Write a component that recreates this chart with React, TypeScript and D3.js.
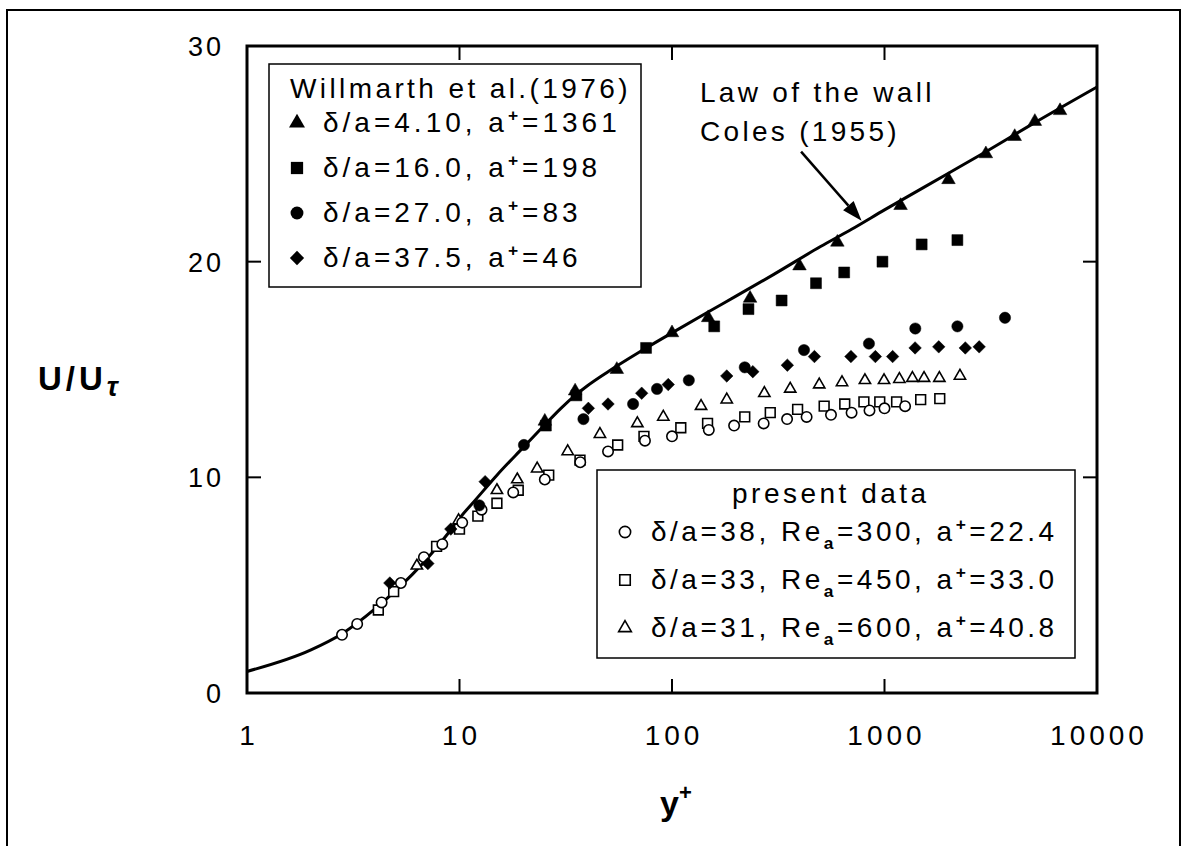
import React, { useEffect, useRef } from 'react';
import * as d3 from 'd3';

type Pt = [number, number];

// law of the wall, Coles (1955)
const lawOfWall: Pt[] = [
  [1, 1.0], [2, 2.0], [2.8, 2.75], [4, 3.9], [5, 4.75], [6, 5.5], [7, 6.2], [9, 7.5],
  [10, 8.1], [12, 9.0], [15, 10.1], [20, 11.4], [25, 12.4], [30, 13.2], [35, 13.8],
  [40, 14.25], [50, 14.9], [70, 15.8], [100, 16.7], [150, 17.7], [200, 18.4], [300, 19.4],
  [500, 20.7], [700, 21.5], [1000, 22.4], [2000, 24.1], [3000, 25.1], [5000, 26.4], [10000, 28.1],
];

// Willmarth et al. (1976)
const willTri: Pt[] = [
  [25.2, 12.6], [35, 14.0], [55, 15.0], [100, 16.7], [148, 17.4], [233, 18.3], [398, 19.8],
  [600, 20.9], [1190, 22.6], [2000, 23.8], [3000, 25.0], [4100, 25.8], [5100, 26.5], [6700, 27.0],
];
const willSq: Pt[] = [
  [25.5, 12.4], [35.5, 13.8], [75.5, 16.0], [158, 17.0], [229, 17.8], [328, 18.2], [476, 19.0],
  [646, 19.5], [978, 20.0], [1496, 20.8], [2203, 21.0],
];
const willCirc: Pt[] = [
  [12.4, 8.7], [20.1, 11.5], [38.3, 12.7], [65.6, 13.4], [85, 14.1], [120, 14.5], [220, 15.1],
  [418, 15.9], [845, 16.2], [1396, 16.9], [2203, 17.0], [3690, 17.4],
];
const willDiam: Pt[] = [
  [4.7, 5.1], [7.1, 6.0], [9.1, 7.6], [13.2, 9.8], [40.4, 13.2], [50, 13.4], [72, 13.9],
  [96, 14.3], [181, 14.7], [240, 14.9], [349, 15.2], [468, 15.6], [695, 15.6], [906, 15.6],
  [1092, 15.6], [1393, 16.0], [1800, 16.05], [2400, 16.0], [2790, 16.05],
];

// present data
const presCirc: Pt[] = [
  [2.8, 2.7], [3.3, 3.2], [4.3, 4.2], [5.3, 5.1], [6.8, 6.3], [8.3, 6.9], [10.3, 7.9],
  [12.7, 8.5], [17.9, 9.3], [25.2, 9.9], [37, 10.7], [50, 11.2], [74.6, 11.7], [100, 11.9],
  [149, 12.2], [196, 12.4], [270, 12.5], [348, 12.7], [430, 12.8], [560, 12.9], [700, 13.0],
  [850, 13.1], [1000, 13.2], [1250, 13.3],
];
const presSq: Pt[] = [
  [4.15, 3.85], [4.9, 4.7], [7.8, 6.8], [10, 7.6], [12.2, 8.2], [15, 8.8], [18.9, 9.4],
  [26.3, 10.1], [36.9, 10.8], [55.5, 11.5], [73.8, 11.9], [110, 12.3], [147, 12.5], [220, 12.8],
  [290, 13.0], [390, 13.15], [520, 13.3], [650, 13.4], [800, 13.5], [950, 13.5], [1140, 13.5],
  [1480, 13.6], [1820, 13.65],
];
const presTri: Pt[] = [
  [6.3, 5.9], [9.9, 8.0], [15, 9.4], [18.7, 9.9], [23.2, 10.4], [32.3, 11.2], [45.8, 12.0],
  [68.7, 12.5], [91, 12.8], [137, 13.3], [181, 13.6], [272, 13.9], [360, 14.1], [493, 14.3],
  [631, 14.4], [809, 14.5], [995, 14.5], [1175, 14.55], [1353, 14.6], [1535, 14.6], [1812, 14.6],
  [2265, 14.7],
];

const xTicks = [1, 10, 100, 1000, 10000];
const yTicks = [0, 10, 20, 30];

const willDelta = ['4.10', '16.0', '27.0', '37.5'];
const willAplus = ['1361', '198', '83', '46'];
const presDelta = ['38', '33', '31'];
const presRe = ['300', '450', '600'];
const presAplus = ['22.4', '33.0', '40.8'];

// arrow from the label to the curve, in data units
const arrowFrom: Pt = [405, 25.1];
const arrowTo: Pt = [780, 21.9];

const FONT = '"Liberation Sans", Arial, Helvetica, sans-serif';

type Part = [string, '' | 'sub' | 'sup'];

function richText(g: any, x: number, y: number, parts: Part[], size: number, spacing = 3) {
  const t = g.append('text')
    .attr('x', x).attr('y', y)
    .attr('font-family', FONT)
    .attr('font-size', size)
    .attr('letter-spacing', spacing)
    .attr('fill', '#000');
  let shift = 0;
  parts.forEach(([s, kind]) => {
    const want = kind === 'sub' ? size * 0.28 : kind === 'sup' ? -size * 0.38 : 0;
    const ts = t.append('tspan').text(s).attr('dy', want - shift);
    if (kind) ts.attr('font-size', size * 0.62).attr('font-weight', 'bold');
    shift = want;
  });
  return t;
}

export default function App() {
  const ref = useRef<SVGSVGElement>(null);

  useEffect(() => {
    const svg = d3.select(ref.current);
    svg.selectAll('*').remove();

    const x = d3.scaleLog().domain([1, 10000]).range([247, 1097]);
    const y = d3.scaleLinear().domain([0, 30]).range([693, 46]);
    const [x0, x1] = x.range();
    const [y0, y1] = y.range();

    // outer frame
    svg.append('rect')
      .attr('x', 7).attr('y', 10).attr('width', 1173).attr('height', 900)
      .attr('fill', 'none').attr('stroke', '#000').attr('stroke-width', 2);

    // axis frame
    svg.append('rect')
      .attr('x', x0).attr('y', y1).attr('width', x1 - x0).attr('height', y0 - y1)
      .attr('fill', 'none').attr('stroke', '#000').attr('stroke-width', 3);

    const ticks = svg.append('g').attr('stroke', '#000').attr('stroke-width', 2);
    xTicks.slice(1, -1).forEach(v => {
      ticks.append('line').attr('x1', x(v)).attr('x2', x(v)).attr('y1', y0).attr('y2', y0 - 14);
      ticks.append('line').attr('x1', x(v)).attr('x2', x(v)).attr('y1', y1).attr('y2', y1 + 14);
    });
    yTicks.slice(1, -1).forEach(v => {
      ticks.append('line').attr('x1', x0).attr('x2', x0 + 14).attr('y1', y(v)).attr('y2', y(v));
      ticks.append('line').attr('x1', x1).attr('x2', x1 - 14).attr('y1', y(v)).attr('y2', y(v));
    });

    // tick labels
    svg.append('g').selectAll('text').data(yTicks).join('text')
      .attr('x', 224).attr('y', d => y(d) + 10)
      .attr('text-anchor', 'end')
      .attr('font-family', FONT).attr('font-size', 27).attr('letter-spacing', 3)
      .text(d => d);
    svg.append('g').selectAll('text').data(xTicks).join('text')
      .attr('x', d => x(d) + 2).attr('y', 745)
      .attr('text-anchor', 'middle')
      .attr('font-family', FONT).attr('font-size', 28).attr('letter-spacing', 4)
      .text(d => d);

    // axis titles
    const yt = svg.append('text').attr('x', 38).attr('y', 390)
      .attr('font-family', FONT).attr('font-size', 33).attr('font-weight', 'bold')
      .attr('letter-spacing', 4);
    yt.append('tspan').text('U/U');
    yt.append('tspan').text('τ').attr('font-size', 27).attr('font-style', 'italic').attr('dy', 6);

    const xt = svg.append('text').attr('x', 660).attr('y', 815)
      .attr('font-family', FONT).attr('font-size', 34).attr('font-weight', 'bold');
    xt.append('tspan').text('y');
    xt.append('tspan').text('+').attr('font-size', 22).attr('dy', -15);

    // law of the wall
    const line = d3.line<Pt>().x(d => x(d[0])).y(d => y(d[1])).curve(d3.curveMonotoneX);
    svg.append('path').datum(lawOfWall)
      .attr('d', line).attr('fill', 'none').attr('stroke', '#000').attr('stroke-width', 3);

    const symFn = (type: any, size: number) => d3.symbol().type(type).size(size)();
    const diamond = (d3 as any).symbolDiamond2 || d3.symbolDiamond;

    const drawSeries = (data: Pt[], type: any, size: number, filled: boolean) => {
      svg.append('g').selectAll('path').data(data).join('path')
        .attr('transform', d => `translate(${x(d[0])},${y(d[1])})`)
        .attr('d', symFn(type, size))
        .attr('fill', filled ? '#000' : '#fff')
        .attr('stroke', '#000')
        .attr('stroke-width', filled ? 0.5 : 1.6);
    };

    drawSeries(presTri, d3.symbolTriangle, 55, false);
    drawSeries(presSq, d3.symbolSquare, 95, false);
    drawSeries(presCirc, d3.symbolCircle, 85, false);
    drawSeries(willDiam, diamond, 100, true);
    drawSeries(willCirc, d3.symbolCircle, 100, true);
    drawSeries(willSq, d3.symbolSquare, 120, true);
    drawSeries(willTri, d3.symbolTriangle, 80, true);

    // annotation
    richText(svg, 700, 102, [['Law of the wall', '']], 28, 3.3);
    richText(svg, 700, 141, [['Coles (1955)', '']], 28, 3.3);
    const ax0 = x(arrowFrom[0]), ay0 = y(arrowFrom[1]);
    const ax1 = x(arrowTo[0]), ay1 = y(arrowTo[1]);
    const ang = Math.atan2(ay1 - ay0, ax1 - ax0);
    const hl = 20, hw = 7;
    const bx = ax1 - hl * Math.cos(ang), by = ay1 - hl * Math.sin(ang);
    svg.append('line').attr('x1', ax0).attr('y1', ay0).attr('x2', bx).attr('y2', by)
      .attr('stroke', '#000').attr('stroke-width', 2.5);
    svg.append('polygon')
      .attr('points', [
        [ax1, ay1],
        [bx + hw * Math.sin(ang), by - hw * Math.cos(ang)],
        [bx - hw * Math.sin(ang), by + hw * Math.cos(ang)],
      ].map(p => p.join(',')).join(' '))
      .attr('fill', '#000');

    // legend: Willmarth
    const lg1 = svg.append('g');
    lg1.append('rect').attr('x', 269).attr('y', 64).attr('width', 372).attr('height', 223)
      .attr('fill', '#fff').attr('stroke', '#000').attr('stroke-width', 1.5);
    richText(lg1, 290, 98, [['Willmarth et al.(1976)', '']], 28, 3.4);
    const lgSyms: [any, number][] = [
      [d3.symbolTriangle, 110], [d3.symbolSquare, 150], [d3.symbolCircle, 130], [diamond, 130],
    ];
    willDelta.forEach((dl, i) => {
      const yy = 132 + i * 45;
      lg1.append('path').attr('transform', `translate(297,${yy - 9})`)
        .attr('d', symFn(lgSyms[i][0], lgSyms[i][1])).attr('fill', '#000');
      richText(lg1, 323, yy, [[`δ/a=${dl}, a`, ''], ['+', 'sup'], [`=${willAplus[i]}`, '']], 28, 4);
    });

    // legend: present data
    const lg2 = svg.append('g');
    lg2.append('rect').attr('x', 597).attr('y', 470).attr('width', 478).attr('height', 188)
      .attr('fill', '#fff').attr('stroke', '#000').attr('stroke-width', 1.5);
    richText(lg2, 732, 503, [['present data', '']], 28, 3.5);
    const lg2Syms: [any, number][] = [
      [d3.symbolCircle, 100], [d3.symbolSquare, 110], [d3.symbolTriangle, 70],
    ];
    presDelta.forEach((dl, i) => {
      const yy = 541 + i * 48;
      lg2.append('path').attr('transform', `translate(625,${yy - 9})`)
        .attr('d', symFn(lg2Syms[i][0], lg2Syms[i][1]))
        .attr('fill', '#fff').attr('stroke', '#000').attr('stroke-width', 1.6);
      richText(lg2, 651, yy, [
        [`δ/a=${dl}, Re`, ''], ['a', 'sub'], [`=${presRe[i]}, a`, ''], ['+', 'sup'], [`=${presAplus[i]}`, ''],
      ], 28, 3.5);
    });
  }, []);

  return (
    <svg
      ref={ref}
      width={1181}
      height={846}
      style={{ position: 'absolute', left: 0, top: 0, background: '#fff' }}
    />
  );
}
